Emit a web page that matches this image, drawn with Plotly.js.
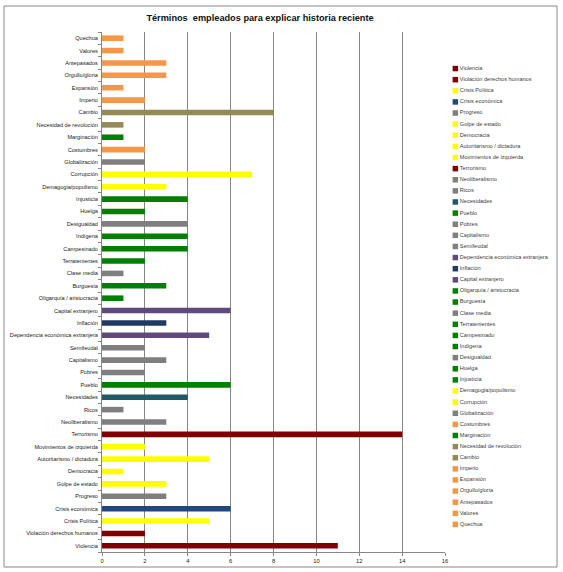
<!DOCTYPE html>
<html>
<head>
<meta charset="utf-8">
<script src="https://cdn.plot.ly/plotly-3.0.1.min.js"></script>
<style>html,body{margin:0;padding:0;background:#fff;}#chart{width:563px;height:572px;}</style>
</head>
<body>
<div id="chart"></div>
<script>
const chartTitle = "Términos  empleados para explicar historia reciente";
const terms = ["Violencia","Violación derechos humanos","Crisis Política","Crisis económica","Progreso","Golpe de estado","Democracia","Autoritarismo / dictadura","Movimientos de izquierda","Terrorismo","Neoliberalismo","Ricos","Necesidades","Pueblo","Pobres","Capitalismo","Semifeudal","Dependencia económica extranjera","Inflación","Capital extranjero","Oligarquía / aristocracia","Burguesía","Clase media","Terratenientes","Campesinado","Indígena","Desigualdad","Huelga","Injusticia","Demagogia/populismo","Corrupción","Globalización","Costumbres","Marginación","Necesidad de revolución","Cambio","Imperio","Expansión","Orgullo/gloria","Antepasados","Valores","Quechua"];
const counts = [11,2,5,6,3,3,1,5,2,14,3,1,4,6,2,3,2,5,3,6,1,3,1,2,4,4,4,2,4,3,7,2,2,1,1,8,2,1,3,3,1,1];
const colors = ["#7F0000","#7F0000","#FFFF00","#1F497D","#7F7F7F","#FFFF00","#FFFF00","#FFFF00","#FFFF00","#7F0000","#7F7F7F","#7F7F7F","#215967","#008000","#7F7F7F","#7F7F7F","#7F7F7F","#604A7B","#1F3B63","#604A7B","#008000","#008000","#7F7F7F","#008000","#008000","#008000","#7F7F7F","#008000","#008000","#FFFF00","#FFFF00","#7F7F7F","#F79646","#008000","#948A54","#948A54","#F79646","#F79646","#F79646","#F79646","#F79646","#F79646"];
const xTicks = [0,2,4,6,8,10,12,14,16];

const FONT = "Liberation Sans, Arial, sans-serif";

const bars = {
  type: "bar", orientation: "h",
  x: counts, y: terms,
  marker: {color: colors, line: {width: 0}},
  width: 0.45,
  showlegend: false, hoverinfo: "x+y",
  xaxis: "x", yaxis: "y"
};

const legendTrace = {
  type: "scatter", mode: "markers+text",
  x: terms.map(() => 0.05), y: terms,
  text: terms, textposition: "middle right",
  textfont: {family: FONT, size: 5.6, color: "#404040"},
  marker: {symbol: "square", size: 5.5, color: colors},
  cliponaxis: false, showlegend: false, hoverinfo: "skip",
  xaxis: "x2", yaxis: "y2"
};

const layout = {
  width: 563, height: 572,
  margin: {l: 4, r: 6, t: 6, b: 5},
  paper_bgcolor: "#fff", plot_bgcolor: "#fff",
  font: {family: FONT, color: "#222"},
  title: {text: "<b>" + chartTitle + "</b>", font: {family: FONT, size: 9.2, color: "#111"},
          x: 260/563, xref: "container", xanchor: "center", y: 1 - 18/572, yref: "container", yanchor: "middle"},
  xaxis: {
    domain: [(102-4)/553, (445-4)/553], range: [0, 16], tickvals: xTicks,
    showgrid: true, gridcolor: "#868686", gridwidth: 1,
    showline: true, linecolor: "#868686", linewidth: 1,
    ticks: "outside", ticklen: 3, tickcolor: "#868686",
    tickfont: {family: FONT, size: 5.8, color: "#222"}, zeroline: false, fixedrange: true, automargin: false
  },
  yaxis: {
    domain: [(567-552)/561, (567-32)/561],
    type: "category", categoryorder: "array", categoryarray: terms, range: [-0.5, terms.length - 0.5],
    showline: true, linecolor: "#868686", linewidth: 1,
    ticks: "outside", ticklen: 3, tickcolor: "#868686", tickson: "boundaries",
    tickfont: {family: FONT, size: 5.6, color: "#222"}, ticklabelstandoff: 2,
    showgrid: false, fixedrange: true, automargin: false
  },
  xaxis2: {domain: [(450-4)/553, 1], range: [0, 1], visible: false, fixedrange: true},
  yaxis2: {domain: [(567-530)/561, (567-63)/561], type: "category", categoryorder: "array",
           categoryarray: terms, range: [terms.length - 0.5, -0.5], visible: false, fixedrange: true},
  shapes: [{type: "rect", xref: "paper", yref: "paper", x0: 0, x1: 1, y0: 0, y1: 1,
            line: {color: "#888", width: 1}, fillcolor: "rgba(0,0,0,0)", layer: "below"}]
};

Plotly.newPlot("chart", [bars, legendTrace], layout, {displayModeBar: false, staticPlot: true});
</script>
</body>
</html>
